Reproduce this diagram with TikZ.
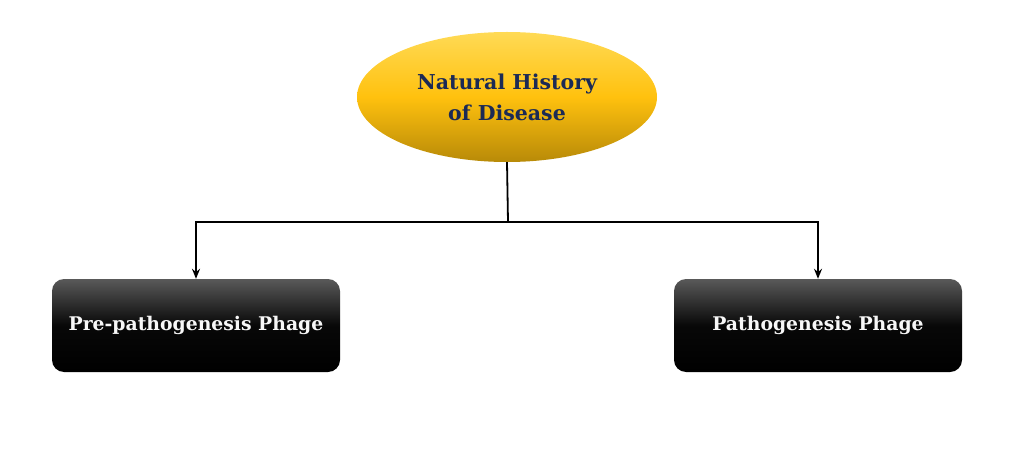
\documentclass[tikz,border=0pt]{standalone}
\usepackage{fontspec}
\setmainfont{DejaVu Serif}
\usetikzlibrary{shapes.geometric, arrows.meta}
\definecolor{navy}{HTML}{1B2A55}
\definecolor{goldtop}{HTML}{FFDA55}
\definecolor{goldmid}{HTML}{FFC10E}
\definecolor{goldbot}{HTML}{B88A08}
\tikzset{
  root/.style = {ellipse, minimum width=300pt, minimum height=130pt,
    top color=goldtop, bottom color=goldbot, middle color=goldmid,
    text=navy, font=\bfseries\fontsize{20.5}{31}\selectfont, align=center},
  phase/.style = {rectangle, rounded corners=12pt, minimum width=288pt, minimum height=93pt,
    top color=black!65, bottom color=black, middle color=black!97,
    text=black!3, font=\bfseries\fontsize{18.8}{22}\selectfont},
  link/.style = {line width=1.8pt, -{Stealth[length=10pt,width=8pt]}}
}

\begin{document}
\begin{tikzpicture}[x=1pt, y=-1pt]
\useasboundingbox (0,0) rectangle (1024,454);
\node[root] (nhd) at (507,97) {Natural History\\of Disease};
\node[phase] (pre) at (196,325.5) {Pre-pathogenesis Phage};
\node[phase] (path) at (818,325.5) {Pathogenesis Phage};
\coordinate (split) at (508,222);
\draw [line width=1.8pt] (nhd.south) -- (split);
\draw [link] (split) -| (pre.north);
\draw [link] (split) -| (path.north);
\end{tikzpicture}
\end{document}
